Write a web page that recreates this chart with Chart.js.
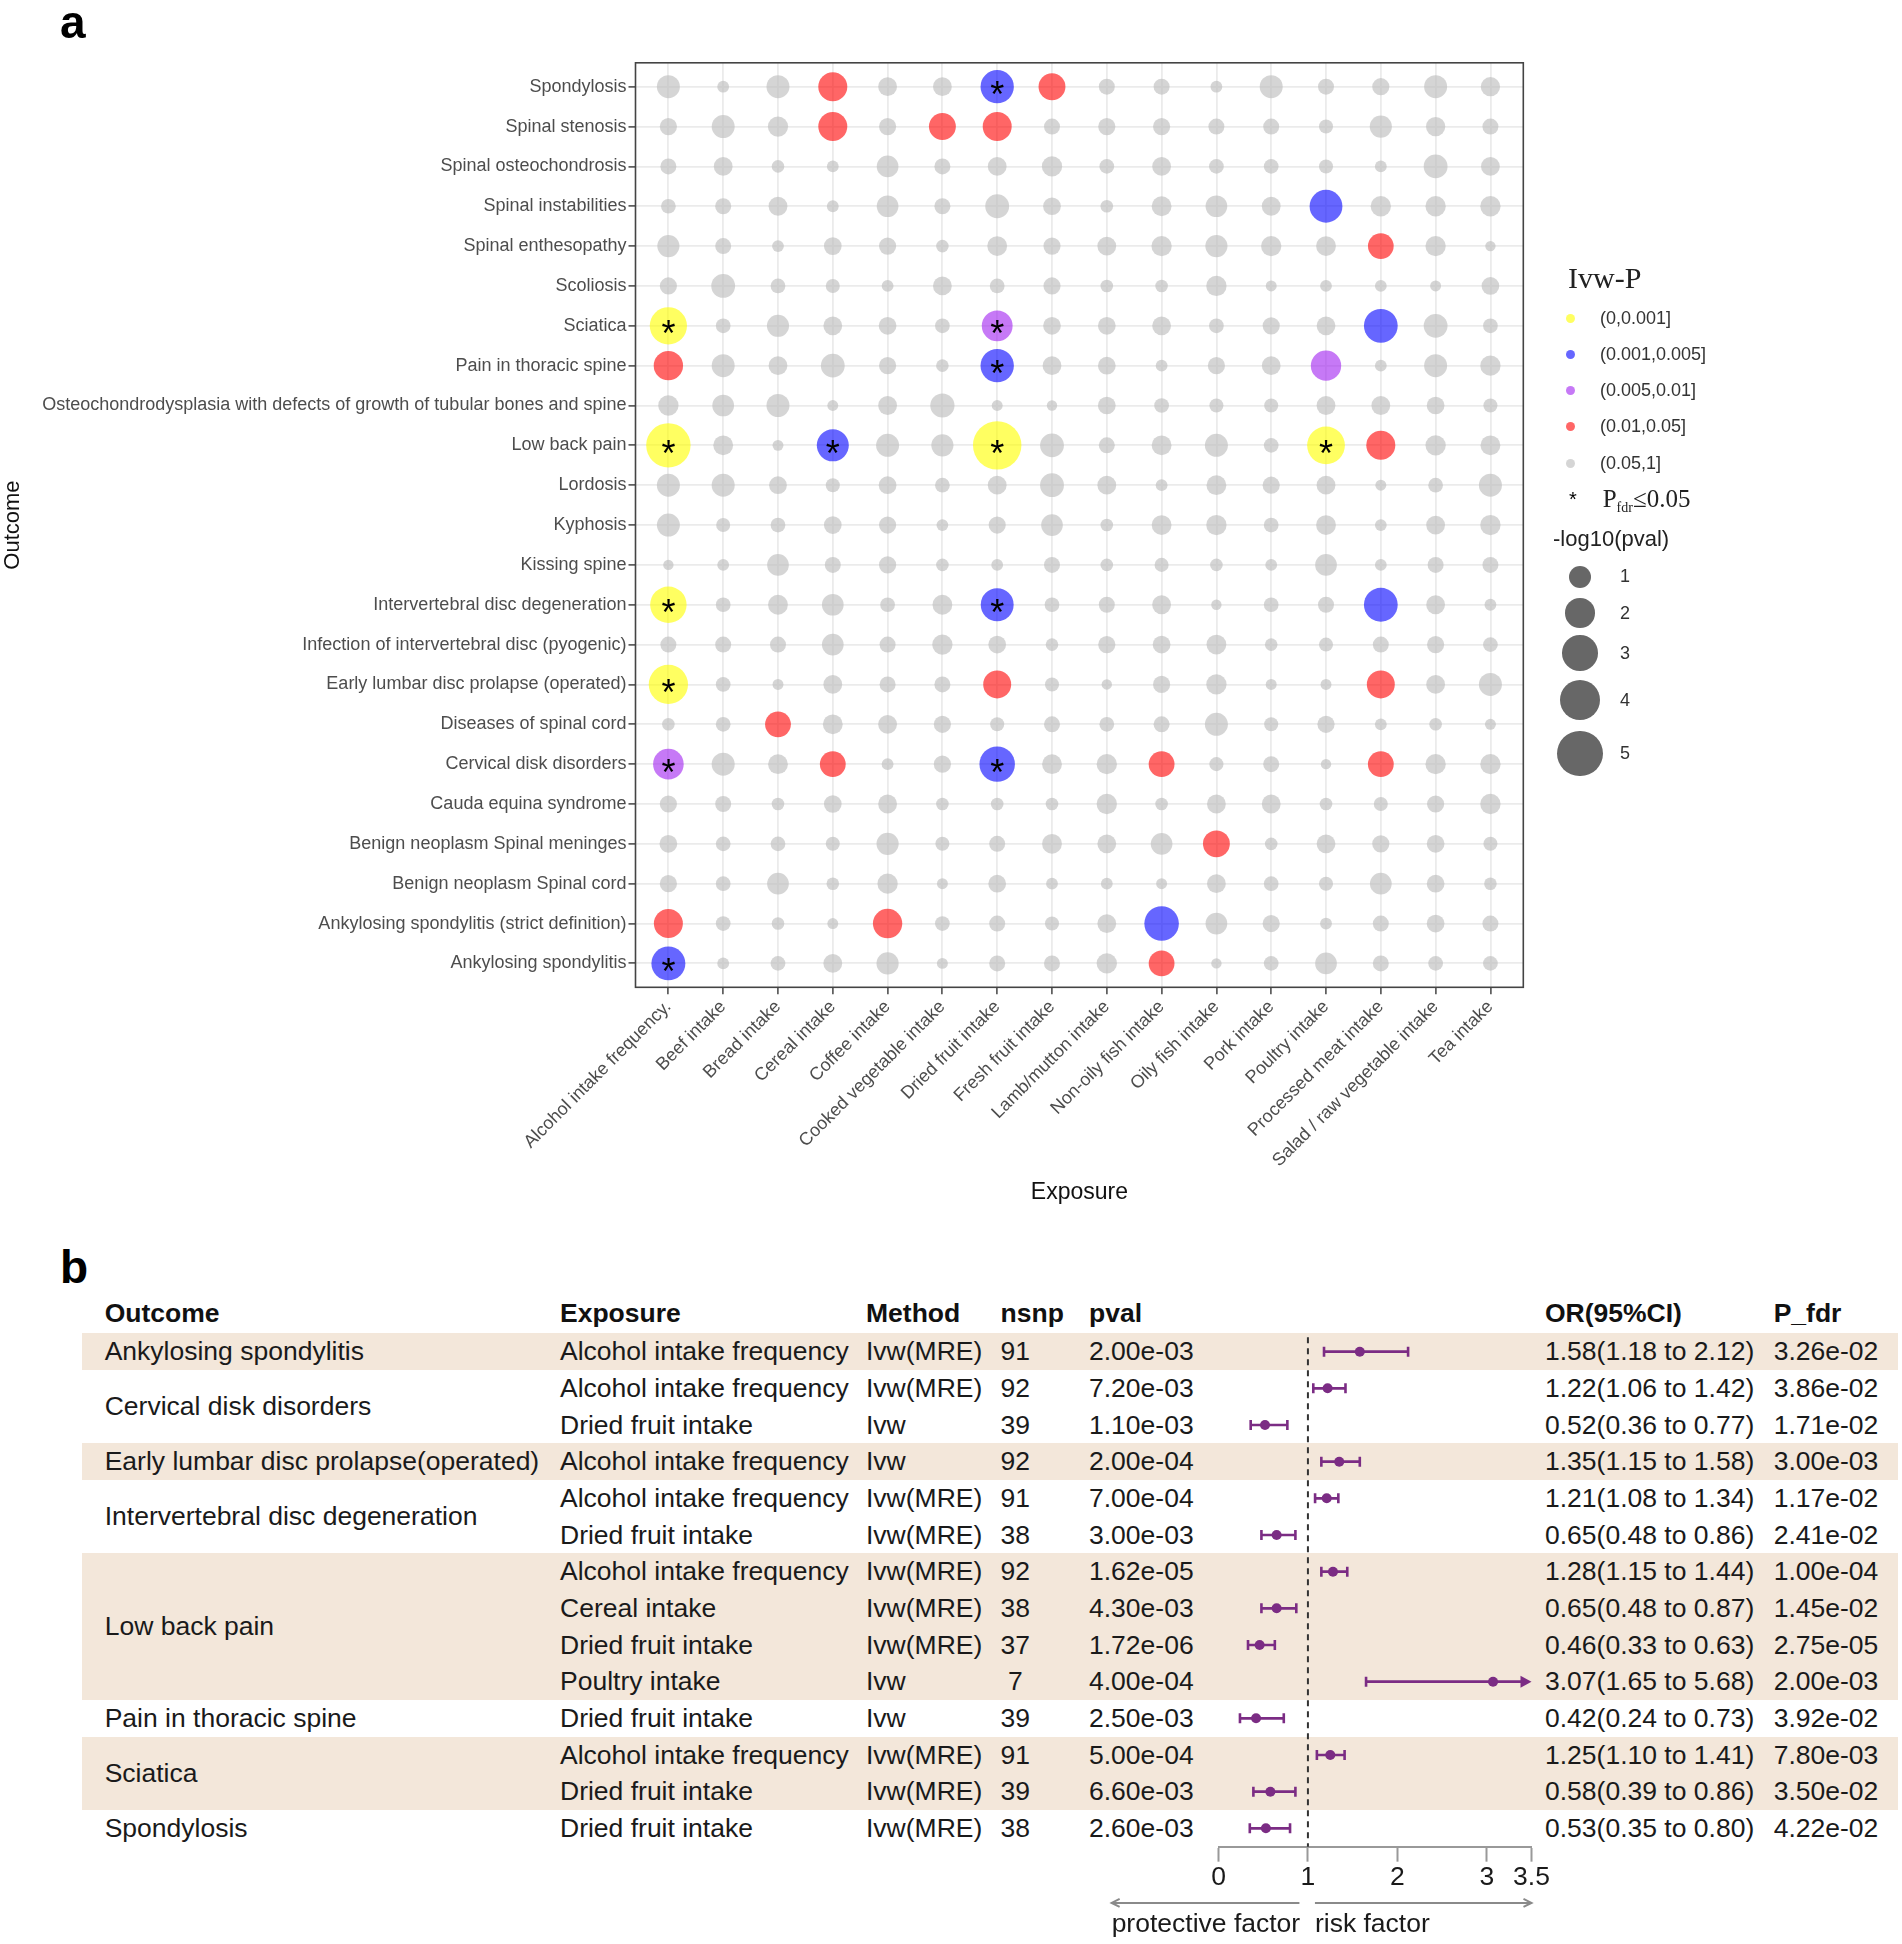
<!DOCTYPE html>
<html><head><meta charset="utf-8">
<script src="https://cdn.jsdelivr.net/npm/chart.js@4.4.1/dist/chart.umd.min.js"></script>
<style>
html,body{margin:0;padding:0;background:#fff;}
body{width:1902px;height:1944px;position:relative;overflow:hidden;font-family:"Liberation Sans",Arial,sans-serif;}
.abs{position:absolute;white-space:pre;}
canvas{position:absolute;}
</style></head><body>
<canvas id="cA" width="1902" height="1215" style="left:0;top:0;width:1902px;height:1215px;z-index:1"></canvas>
<canvas id="cB" width="500" height="654" style="left:1100px;top:1290px;width:500px;height:654px;z-index:3"></canvas>
<script>
// ---------------- DATA: panel a ----------------
const exposures = ["Alcohol intake frequency.","Beef intake","Bread intake","Cereal intake","Coffee intake","Cooked vegetable intake","Dried fruit intake","Fresh fruit intake","Lamb/mutton intake","Non-oily fish intake","Oily fish intake","Pork intake","Poultry intake","Processed meat intake","Salad / raw vegetable intake","Tea intake"];
const outcomes = ["Spondylosis","Spinal stenosis","Spinal osteochondrosis","Spinal instabilities","Spinal enthesopathy","Scoliosis","Sciatica","Pain in thoracic spine","Osteochondrodysplasia with defects of growth of tubular bones and spine","Low back pain","Lordosis","Kyphosis","Kissing spine","Intervertebral disc degeneration","Infection of intervertebral disc (pyogenic)","Early lumbar disc prolapse (operated)","Diseases of spinal cord","Cervical disk disorders","Cauda equina syndrome","Benign neoplasm Spinal meninges","Benign neoplasm Spinal cord","Ankylosing spondylitis (strict definition)","Ankylosing spondylitis"];
// -log10(pval) per outcome, in exposure order
const spondylosis        = [1.1,0.1,1.1,1.9,0.65,0.65,2.59,1.6,0.4,0.4,0.1,1.1,0.4,0.5,1.1,0.7];
const spinalStenosis     = [0.5,1.1,0.8,1.9,0.5,1.6,1.9,0.4,0.5,0.5,0.4,0.4,0.25,1.0,0.7,0.4];
const spinalOsteochond   = [0.4,0.65,0.15,0.1,0.95,0.4,0.65,0.8,0.3,0.65,0.3,0.3,0.25,0.1,1.2,0.65];
const spinalInstab       = [0.3,0.4,0.65,0.1,0.95,0.4,1.2,0.55,0.15,0.75,0.95,0.65,2.5,0.8,0.8,0.8];
const spinalEnthesopathy = [1.0,0.4,0.1,0.55,0.5,0.15,0.75,0.5,0.65,0.8,1.0,0.8,0.75,1.44,0.8,0.02];
const scoliosis          = [0.5,1.2,0.3,0.25,0.1,0.65,0.3,0.5,0.15,0.15,0.8,0.05,0.1,0.1,0.05,0.55];
const sciatica           = [3.3,0.3,1.0,0.65,0.55,0.3,2.18,0.55,0.55,0.65,0.3,0.5,0.65,2.67,1.2,0.3];
const painThoracic       = [1.95,1.1,0.65,1.2,0.5,0.15,2.6,0.65,0.55,0.1,0.5,0.65,2.1,0.1,1.1,0.8];
const osteochondrodyspl  = [0.8,0.95,1.1,0.05,0.65,1.25,0.05,0.02,0.55,0.3,0.25,0.25,0.65,0.65,0.55,0.25];
const lowBackPain        = [4.79,0.75,0.05,2.37,1.1,1.0,5.76,1.2,0.4,0.75,1.1,0.3,3.4,1.9,0.8,0.75];
const lordosis           = [1.1,1.1,0.55,0.25,0.55,0.3,0.65,1.2,0.65,0.1,0.75,0.5,0.65,0.05,0.3,1.1];
const kyphosis           = [1.1,0.25,0.3,0.55,0.5,0.1,0.5,0.95,0.15,0.75,0.8,0.3,0.75,0.1,0.65,0.8];
const kissingSpine       = [0.02,0.1,0.95,0.4,0.5,0.15,0.1,0.4,0.15,0.25,0.15,0.1,0.95,0.1,0.4,0.4];
const ivdDegeneration    = [3.15,0.3,0.75,0.95,0.3,0.75,2.52,0.3,0.4,0.65,0.02,0.3,0.4,2.67,0.65,0.1];
const ivdInfection       = [0.4,0.4,0.4,0.95,0.4,0.8,0.55,0.15,0.5,0.55,0.75,0.15,0.25,0.4,0.5,0.3];
const earlyLumbar        = [3.7,0.3,0.05,0.65,0.4,0.4,1.75,0.25,0.02,0.5,0.8,0.05,0.05,1.75,0.65,1.1];
const spinalCordDisease  = [0.15,0.3,1.45,0.75,0.65,0.5,0.25,0.4,0.3,0.4,1.1,0.25,0.5,0.1,0.15,0.05];
const cervicalDisk       = [2.14,1.1,0.75,1.45,0.1,0.5,2.96,0.75,0.8,1.45,0.25,0.4,0.02,1.45,0.8,0.8];
const caudaEquina        = [0.5,0.4,0.15,0.55,0.65,0.15,0.15,0.15,0.8,0.15,0.65,0.65,0.15,0.25,0.5,0.8];
const neoplasmMeninges   = [0.55,0.3,0.3,0.25,1.0,0.25,0.4,0.75,0.65,0.95,1.6,0.15,0.65,0.5,0.55,0.25];
const neoplasmCord       = [0.5,0.3,0.95,0.15,0.8,0.05,0.55,0.1,0.1,0.05,0.65,0.3,0.25,0.95,0.55,0.15];
const ankSpondStrict     = [1.9,0.3,0.15,0.05,1.95,0.3,0.4,0.25,0.65,2.8,0.95,0.5,0.1,0.4,0.55,0.4];
const ankSpond           = [2.7,0.1,0.3,0.65,1.0,0.05,0.4,0.4,0.8,1.45,0.02,0.3,0.95,0.4,0.3,0.3];
const gridRows = [spondylosis,spinalStenosis,spinalOsteochond,spinalInstab,spinalEnthesopathy,scoliosis,sciatica,painThoracic,osteochondrodyspl,lowBackPain,lordosis,kyphosis,kissingSpine,ivdDegeneration,ivdInfection,earlyLumbar,spinalCordDisease,cervicalDisk,caudaEquina,neoplasmMeninges,neoplasmCord,ankSpondStrict,ankSpond];
// FDR-significant pairs (asterisks)
const fdrPairs = [["Spondylosis","Dried fruit intake"],["Sciatica","Alcohol intake frequency."],["Sciatica","Dried fruit intake"],["Pain in thoracic spine","Dried fruit intake"],["Low back pain","Alcohol intake frequency."],["Low back pain","Cereal intake"],["Low back pain","Dried fruit intake"],["Low back pain","Poultry intake"],["Intervertebral disc degeneration","Alcohol intake frequency."],["Intervertebral disc degeneration","Dried fruit intake"],["Early lumbar disc prolapse (operated)","Alcohol intake frequency."],["Cervical disk disorders","Alcohol intake frequency."],["Cervical disk disorders","Dried fruit intake"],["Ankylosing spondylitis","Alcohol intake frequency."]];
const pBreaks = [0.001,0.005,0.01,0.05,1];
const pBreakLabels = ["(0,0.001]","(0.001,0.005]","(0.005,0.01]","(0.01,0.05]","(0.05,1]"];
const sizeLegendValues = [1,2,3,4,5];

// ---------------- DATA: panel b ----------------
const fGroups = ["Ankylosing spondylitis","Cervical disk disorders","Early lumbar disc prolapse(operated)","Intervertebral disc degeneration","Low back pain","Pain in thoracic spine","Sciatica","Spondylosis"];
const fGroupSizes = [1,2,1,2,4,1,2,1];
const fExposure = ["Alcohol intake frequency","Alcohol intake frequency","Dried fruit intake","Alcohol intake frequency","Alcohol intake frequency","Dried fruit intake","Alcohol intake frequency","Cereal intake","Dried fruit intake","Poultry intake","Dried fruit intake","Alcohol intake frequency","Dried fruit intake","Dried fruit intake"];
const fMethod = ["Ivw(MRE)","Ivw(MRE)","Ivw","Ivw","Ivw(MRE)","Ivw(MRE)","Ivw(MRE)","Ivw(MRE)","Ivw(MRE)","Ivw","Ivw","Ivw(MRE)","Ivw(MRE)","Ivw(MRE)"];
const fNsnp = [91,92,39,92,91,38,92,38,37,7,39,91,39,38];
const fPval = [2.00e-3,7.20e-3,1.10e-3,2.00e-4,7.00e-4,3.00e-3,1.62e-5,4.30e-3,1.72e-6,4.00e-4,2.50e-3,5.00e-4,6.60e-3,2.60e-3];
const fOR    = [1.58,1.22,0.52,1.35,1.21,0.65,1.28,0.65,0.46,3.07,0.42,1.25,0.58,0.53];
const fLower = [1.18,1.06,0.36,1.15,1.08,0.48,1.15,0.48,0.33,1.65,0.24,1.10,0.39,0.35];
const fUpper = [2.12,1.42,0.77,1.58,1.34,0.86,1.44,0.87,0.63,5.68,0.73,1.41,0.86,0.80];
const fPfdr  = [3.26e-2,3.86e-2,1.71e-2,3.00e-3,1.17e-2,2.41e-2,1.00e-4,1.45e-2,2.75e-5,2.00e-3,3.92e-2,7.80e-3,3.50e-2,4.22e-2];
const forestTicks = [0,1,2,3,3.5];
const fHeaders = ["Outcome","Exposure","Method","nsnp","pval","OR(95%CI)","P_fdr"];

// ---------------- styling ----------------
const SANS = '"Liberation Sans", Arial, sans-serif';
const SERIF = '"Liberation Serif", "Times New Roman", serif';
const catColors = ['rgba(255,255,0,0.62)','rgba(0,0,255,0.6)','rgba(160,32,240,0.6)','rgba(255,0,0,0.6)','rgba(190,190,190,0.65)'];
function catIndex(v){ const p = Math.pow(10,-v); for(let k=0;k<pBreaks.length;k++){ if(p<=pBreaks[k]) return k; } return pBreaks.length-1; }
const sizeOf = v => Math.sqrt(100 + 390*Math.max(v,0))/2;
Chart.defaults.font.family = SANS;

function txt(str, x, cy, o={}) {
  const size=o.size||18, h=o.lh||Math.round(size*1.4);
  const d=document.createElement('div'); d.className='abs';
  d.style.cssText=`left:${x}px;top:${cy-h/2}px;height:${h}px;line-height:${h}px;font-size:${size}px;color:${o.color||'#1a1a1a'};font-weight:${o.weight||'normal'};font-family:${o.family||SANS};z-index:${o.z||2};`;
  if(o.align==='center') d.style.transform='translateX(-50%)';
  if(o.align==='right') d.style.transform='translateX(-100%)';
  if(o.html) d.innerHTML=str; else d.textContent=str;
  document.body.appendChild(d); return d;
}
function box(x,y,w,h,bg,radius,z){ const d=document.createElement('div'); d.className='abs'; d.style.cssText=`left:${x}px;top:${y}px;width:${w}px;height:${h}px;background:${bg};border-radius:${radius||0}px;z-index:${z||0};`; document.body.appendChild(d); return d; }

// ---------------- panel a ----------------
const points=[];
gridRows.forEach((row,j)=>row.forEach((v,i)=>points.push({x:i,y:j,v:v})));
const starPoints = fdrPairs.map(([o,e])=>({x:exposures.indexOf(e), y:outcomes.indexOf(o)}));

const framePlugin = {
  id:'frame',
  afterDatasetsDraw(chart){
    const {ctx, scales:{x,y}} = chart;
    ctx.save(); ctx.fillStyle='#000'; ctx.font='36px '+SANS; ctx.textAlign='center'; ctx.textBaseline='alphabetic';
    starPoints.forEach(p=>{ ctx.fillText('*', x.getPixelForValue(p.x), y.getPixelForValue(p.y)+20.5); });
    ctx.restore();
  },
  afterDraw(chart){
    const {ctx, chartArea:a} = chart;
    ctx.save(); ctx.strokeStyle='#444'; ctx.lineWidth=1.6; ctx.strokeRect(a.left,a.top,a.right-a.left,a.bottom-a.top); ctx.restore();
  }
};
new Chart(document.getElementById('cA'), {
  type:'scatter',
  data:{datasets:[{data:points, pointRadius:c=>sizeOf(c.raw.v), pointHoverRadius:c=>sizeOf(c.raw.v), pointBackgroundColor:c=>catColors[catIndex(c.raw.v)], pointBorderWidth:0}]},
  options:{
    responsive:false, animation:false, events:[],
    layout:{padding:{top:62.8,right:378.7,left:0,bottom:0}},
    plugins:{legend:{display:false},tooltip:{enabled:false}},
    scales:{
      x:{type:'linear',min:-0.6,max:15.6,
        afterBuildTicks:s=>{s.ticks=exposures.map((_,i)=>({value:i}));},
        afterFit:s=>{s.height=1215-987.3;},
        ticks:{autoSkip:false,minRotation:45,maxRotation:45,padding:2,color:'#4d4d4d',font:{size:18},callback:v=>exposures[v]},
        grid:{color:'#ebebeb',lineWidth:1.8,tickColor:'#444',tickWidth:1.5,tickLength:7},
        border:{display:false},
        title:{display:true,text:'Exposure',color:'#111',font:{size:23},padding:{top:0,bottom:9}}
      },
      y:{type:'linear',min:-0.6,max:22.6,reverse:true,
        afterBuildTicks:s=>{s.ticks=outcomes.map((_,i)=>({value:i}));},
        afterFit:s=>{s.width=635.5;},
        ticks:{autoSkip:false,padding:2,color:'#4d4d4d',font:{size:18},callback:v=>outcomes[v]},
        grid:{color:'#ebebeb',lineWidth:1.8,tickColor:'#444',tickWidth:1.5,tickLength:7},
        border:{display:false},
        title:{display:true,text:'Outcome',color:'#111',font:{size:22},padding:0}
      }
    }
  },
  plugins:[framePlugin]
});

// legend (panel a)
txt('Ivw-P',1568,278,{size:30,family:SERIF,color:'#222'});
const legY=[318,354.3,390.5,426.8,463];
pBreakLabels.forEach((lab,k)=>{
  box(1570.7-4.5,legY[k]-4.5,9,9,catColors[k],5,2);
  txt(lab,1600,legY[k],{size:18,color:'#333'});
});
txt('*',1573,498.6,{size:20,color:'#000',align:'center'});
txt('P<span style="font-size:14px;position:relative;top:5px">fdr</span>≤0.05',1602.7,498.6,{size:25,family:SERIF,color:'#222',html:true});
txt('-log10(pval)',1553,538.3,{size:22,color:'#222'});
const sizeY=[576.7,613.3,653.3,700,753.3];
sizeLegendValues.forEach((v,k)=>{
  const r=sizeOf(v);
  box(1580-r,sizeY[k]-r,2*r,2*r,'#676767',r,2);
  txt(String(v),1620,sizeY[k],{size:18,color:'#333'});
});
txt('a',60,22.1,{size:46,weight:'bold',color:'#000'});

// ---------------- panel b ----------------
txt('b',60,1267,{size:46,weight:'bold',color:'#000'});
const ROW0=1351.67, RH=36.667;
const rowY=i=>ROW0+RH*i;
const colX=[104.7,560,866,1000.6,1089,1545,1773.7];
const fmtE=n=>{let [m,e]=n.toExponential(2).split('e'); const s=e[0]==='-'?'-':'+'; return m+'e'+s+String(Math.abs(+e)).padStart(2,'0');};
fHeaders.forEach((h,k)=>txt(h,colX[k],1313,{size:26.5,weight:'bold',color:'#111'}));
let start=0;
fGroups.forEach((g,gi)=>{
  const n=fGroupSizes[gi];
  if(gi%2===0) box(82,rowY(start)-RH/2,1816,RH*n,'#f3e7da',0,0);
  txt(g,colX[0],rowY(start)+RH*(n-1)/2,{size:26.5});
  start+=n;
});
fExposure.forEach((e,i)=>{
  const cy=rowY(i);
  txt(e,colX[1],cy,{size:26.5});
  txt(fMethod[i],colX[2],cy,{size:26.5});
  txt(String(fNsnp[i]).padStart(2,' '),colX[3],cy,{size:26.5});
  txt(fmtE(fPval[i]),colX[4],cy,{size:26.5});
  txt(`${fOR[i].toFixed(2)}(${fLower[i].toFixed(2)} to ${fUpper[i].toFixed(2)})`,colX[5],cy,{size:26.5});
  txt(fmtE(fPfdr[i]),colX[6],cy,{size:26.5});
});

const FC='#7b2c84';
const forestPlugin={
  id:'forest',
  beforeDatasetsDraw(chart){
    const {ctx,chartArea:a,scales:{x,y}}=chart;
    const x1=x.getPixelForValue(1);
    ctx.save();
    ctx.strokeStyle='#333'; ctx.lineWidth=2; ctx.setLineDash([6,5]);
    ctx.beginPath(); ctx.moveTo(x1,a.top+4); ctx.lineTo(x1,a.bottom); ctx.stroke();
    ctx.setLineDash([]);
    ctx.strokeStyle=FC; ctx.fillStyle=FC; ctx.lineWidth=2.6;
    fOR.forEach((or,i)=>{
      const yy=y.getPixelForValue(i);
      const xl=x.getPixelForValue(fLower[i]);
      const clipped=fUpper[i]>x.max;
      const xh=x.getPixelForValue(Math.min(fUpper[i],x.max));
      ctx.beginPath(); ctx.moveTo(xl,yy); ctx.lineTo(clipped?xh-6:xh,yy);
      ctx.moveTo(xl,yy-5); ctx.lineTo(xl,yy+5);
      if(!clipped){ctx.moveTo(xh,yy-5); ctx.lineTo(xh,yy+5);}
      ctx.stroke();
      if(clipped){ctx.beginPath(); ctx.moveTo(xh,yy); ctx.lineTo(xh-11,yy-6); ctx.lineTo(xh-11,yy+6); ctx.closePath(); ctx.fill();}
    });
    ctx.restore();
  },
  afterDraw(chart){
    const {ctx,chartArea:a,scales:{x}}=chart;
    const x1=x.getPixelForValue(1), xr=x.getPixelForValue(x.max);
    const ay=a.bottom+56.3, ty=a.bottom+78.3;
    ctx.save(); ctx.strokeStyle='#8a8a8a'; ctx.lineWidth=2;
    const arrow=(xa,xb)=>{ctx.beginPath(); ctx.moveTo(xa,ay); ctx.lineTo(xb,ay); const d=xb>xa?-1:1; ctx.moveTo(xb+d*8,ay-4); ctx.lineTo(xb,ay); ctx.lineTo(xb+d*8,ay+4); ctx.stroke();};
    arrow(x1-8.5,x1-196.3); arrow(x1+7,xr);
    ctx.fillStyle='#1a1a1a'; ctx.font='26.5px '+SANS; ctx.textBaseline='middle'; ctx.textAlign='left';
    ctx.fillText('protective factor',x1-196.3,ty); ctx.fillText('risk factor',x1+7,ty);
    ctx.restore();
  }
};
new Chart(document.getElementById('cB'),{
  type:'scatter',
  data:{datasets:[{data:fOR.map((v,i)=>({x:v,y:i})),pointRadius:5,pointHoverRadius:5,pointBackgroundColor:FC,pointBorderWidth:0}]},
  options:{
    responsive:false,animation:false,events:[],
    layout:{padding:{top:43.33,left:118.5,right:68.5,bottom:0}},
    plugins:{legend:{display:false},tooltip:{enabled:false}},
    scales:{
      x:{type:'linear',min:0,max:3.5,
        afterBuildTicks:s=>{s.ticks=forestTicks.map(v=>({value:v}));},
        afterFit:s=>{s.height=97.33;},
        ticks:{autoSkip:false,padding:0,color:'#1a1a1a',font:{size:26.5},maxRotation:0,callback:v=>String(v)},
        grid:{drawOnChartArea:false,drawTicks:true,tickLength:15,tickColor:'#999',tickWidth:2,color:'#999'},
        border:{display:true,color:'#999',width:2}
      },
      y:{type:'linear',min:-0.5,max:13.5,reverse:true,display:false}
    }
  },
  plugins:[forestPlugin]
});
</script>
</body></html>
